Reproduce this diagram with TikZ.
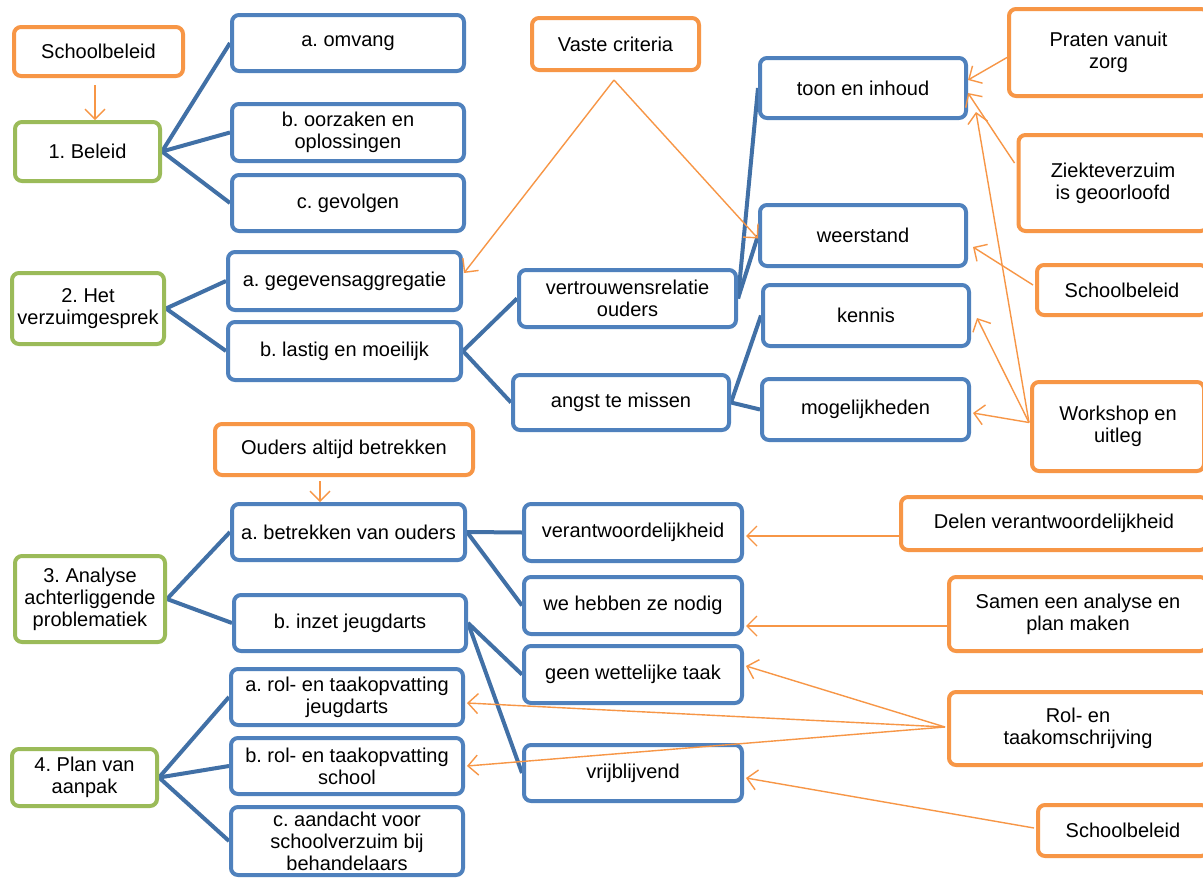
\documentclass[tikz,border=0pt]{standalone}
\usepackage{fontspec}
\setmainfont{Liberation Sans}
\frenchspacing
\usetikzlibrary{arrows.meta,backgrounds}
\definecolor{cOr}{HTML}{F79646}
\definecolor{cGr}{HTML}{9BBB59}
\definecolor{cBl}{HTML}{4F81BD}
\definecolor{cLn}{HTML}{4170A6}
\begin{document}
\begin{tikzpicture}[x=1pt,y=-1pt,
  box/.style={font=\fontsize{20}{22}\selectfont, align=center, rounded corners=7pt, line width=4pt, fill=white, inner sep=1pt},
  bbox/.style={box, draw=cBl},
  obox/.style={box, draw=cOr},
  gbox/.style={box, draw=cGr},
  link/.style={draw=cLn, line width=4pt},
  arr/.style={draw=cOr, line width=1.4pt, -{Straight Barb[length=10pt,width=20pt]}},
]
\path[use as bounding box] (0,0) rectangle (1203,878);
\clip (0,0) rectangle (1203,878);

% section 1
\node[obox, minimum width=169pt, minimum height=49pt] (sb1) at (98.5,51.5) {Schoolbeleid};
\node[gbox, minimum width=145pt, minimum height=59pt] (beleid) at (87.5,151.5) {1. Beleid};
\node[bbox, minimum width=232pt, minimum height=56pt] (omvang) at (348,43) {a. omvang};
\node[bbox, minimum width=232pt, minimum height=57pt] (oorzaken) at (348,132.5) {b. oorzaken en\\oplossingen};
\node[bbox, minimum width=232pt, minimum height=56pt] (gevolgen) at (348,203) {c. gevolgen};

% top right
\node[obox, minimum width=167pt, minimum height=52pt] (vaste) at (615.5,44) {Vaste criteria};
\node[bbox, minimum width=206pt, minimum height=60pt] (toon) at (863,88) {toon en inhoud};
\node[bbox, minimum width=206pt, minimum height=61pt] (weerstand) at (863,235.5) {weerstand};
\node[obox, minimum width=199pt, minimum height=87pt] (praten) at (1108.5,52.5) {Praten vanuit\\zorg};
\node[obox, minimum width=189pt, minimum height=96pt] (ziekte) at (1113,183) {Ziekteverzuim\\is geoorloofd};
\node[obox, minimum width=170pt, minimum height=50pt] (sb2) at (1122,290) {Schoolbeleid};
\node[obox, minimum width=172pt, minimum height=89pt] (workshop) at (1118,426.5) {Workshop en\\uitleg};

% section 2
\node[gbox, minimum width=152pt, minimum height=71pt] (het) at (88,308.5) {2. Het\\verzuimgesprek};
\node[bbox, minimum width=233pt, minimum height=58pt] (gegevens) at (344.5,281) {a. gegevensaggregatie};
\node[bbox, minimum width=233pt, minimum height=58pt] (lastig) at (344.5,351) {b. lastig en moeilijk};
\node[bbox, minimum width=217pt, minimum height=57pt] (vertr) at (627.5,298.5) {vertrouwensrelatie\\ouders};
\node[bbox, minimum width=216pt, minimum height=55pt] (angst) at (621,402.5) {angst te missen};
\node[bbox, minimum width=206pt, minimum height=61pt] (kennis) at (866,315.5) {kennis};
\node[bbox, minimum width=207pt, minimum height=61pt] (mogelijk) at (865.5,409.5) {mogelijkheden};

% section 3
\node[obox, minimum width=258pt, minimum height=51pt] (ouders) at (344,449.5) {Ouders altijd betrekken};
\node[gbox, minimum width=150pt, minimum height=86pt] (analyse) at (90,599) {3. Analyse\\achterliggende\\problematiek};
\node[bbox, minimum width=233pt, minimum height=56pt] (betrekken) at (348.5,532) {a. betrekken van ouders};
\node[bbox, minimum width=232pt, minimum height=56pt] (inzet) at (350,623) {b. inzet jeugdarts};
\node[bbox, minimum width=218pt, minimum height=57pt] (verantw) at (633,532.5) {verantwoordelijkheid};
\node[bbox, minimum width=218pt, minimum height=57pt] (nodig) at (633,605.5) {we hebben ze nodig};
\node[bbox, minimum width=218pt, minimum height=57pt] (geen) at (633,674.5) {geen wettelijke taak};
\node[bbox, minimum width=218pt, minimum height=56pt] (vrij) at (633,773) {vrijblijvend};

% section 4
\node[gbox, minimum width=145pt, minimum height=57pt] (plan) at (84.5,777.5) {4. Plan van\\aanpak};
\node[bbox, minimum width=232pt, minimum height=56pt] (rolj) at (347,697) {a. rol- en taakopvatting\\jeugdarts};
\node[bbox, minimum width=232pt, minimum height=56pt] (rols) at (347,766) {b. rol- en taakopvatting\\school};
\node[bbox, minimum width=232pt, minimum height=68pt] (aandacht) at (347,841) {c. aandacht voor\\schoolverzuim bij\\behandelaars};

% bottom right
\node[obox, minimum width=306pt, minimum height=53pt] (delen) at (1054,523.5) {Delen verantwoordelijkheid};
\node[obox, minimum width=258pt, minimum height=74pt] (samen) at (1078,614) {Samen een analyse en\\plan maken};
\node[obox, minimum width=258pt, minimum height=73pt] (rol) at (1078,728.5) {Rol- en\\taakomschrijving};
\node[obox, minimum width=170pt, minimum height=51pt] (sb3) at (1123,830.5) {Schoolbeleid};

% blue connectors
\begin{pgfonlayer}{background}
\fill[white] (0,0) rectangle (1203,878);
\draw[link] (beleid.east) -- (omvang.west);
\draw[link] (beleid.east) -- (oorzaken.west);
\draw[link] (beleid.east) -- (gevolgen.west);
\draw[link] (het.east) -- (gegevens.west);
\draw[link] (het.east) -- (lastig.west);
\draw[link] (lastig.east) -- (vertr.west);
\draw[link] (lastig.east) -- (angst.west);
\draw[link] (vertr.east) -- (toon.west);
\draw[link] (vertr.east) -- (weerstand.west);
\draw[link] (angst.east) -- (kennis.west);
\draw[link] (angst.east) -- (mogelijk.west);
\draw[link] (analyse.east) -- (betrekken.west);
\draw[link] (analyse.east) -- (inzet.west);
\draw[link] (betrekken.east) -- (verantw.west);
\draw[link] (betrekken.east) -- (nodig.west);
\draw[link] (inzet.east) -- (geen.west);
\draw[link] (inzet.east) -- (vrij.west);
\draw[link] (plan.east) -- (rolj.west);
\draw[link] (plan.east) -- (rols.west);
\draw[link] (plan.east) -- (aandacht.west);
\end{pgfonlayer}

% orange arrows
\coordinate (s1) at ([xshift=-3.5pt,yshift=-7pt]sb1.south);
\draw[arr] (s1) -- (s1 |- beleid.north);
\coordinate (vc) at ([xshift=-1.5pt,yshift=-8pt]vaste.south);
\draw[arr] (vc) -- ([xshift=1pt,yshift=8pt]gegevens.east);
\draw[arr] (vc) -- ([yshift=-3pt]weerstand.west);
\draw[arr] ([yshift=-5pt]praten.west) -- ([yshift=8pt]toon.east);
\draw[arr] ([xshift=-2pt,yshift=20pt]ziekte.west) -- ([yshift=-5pt]toon.east);
\coordinate (ws) at ([xshift=-1pt,yshift=4pt]workshop.west);
\draw[arr] (ws) -- ([xshift=8pt,yshift=-24pt]toon.east);
\draw[arr] (ws) -- ([xshift=6pt,yshift=-2.5pt]kennis.east);
\draw[arr] (ws) -- ([xshift=2pt,yshift=-3.5pt]mogelijk.east);
\draw[arr] ([xshift=-2pt,yshift=5pt]sb2.west) -- ([xshift=5pt,yshift=-11.5pt]weerstand.east);
\coordinate (s3) at ([xshift=-24pt,yshift=-4pt]ouders.south);
\draw[arr] (s3) -- (s3 |- betrekken.north);
\draw[arr] ([yshift=-12.5pt]delen.west) -- ([xshift=2pt,yshift=-3.5pt]verantw.east);
\draw[arr] ([yshift=-12pt]samen.west) -- ([xshift=2pt,yshift=-20.5pt]nodig.east);
\coordinate (rl) at ([xshift=-2pt,yshift=1.5pt]rol.west);
\draw[arr] (rl) -- ([xshift=2pt,yshift=8.5pt]geen.east);
\draw[arr] (rl) -- ([xshift=2pt,yshift=-6pt]rolj.east);
\draw[arr] (rl) -- ([xshift=2pt]rols.east);
\draw[arr] ([xshift=-2pt,yshift=2.5pt]sb3.west) -- ([xshift=2pt,yshift=-5pt]vrij.east);
\end{tikzpicture}
\end{document}
